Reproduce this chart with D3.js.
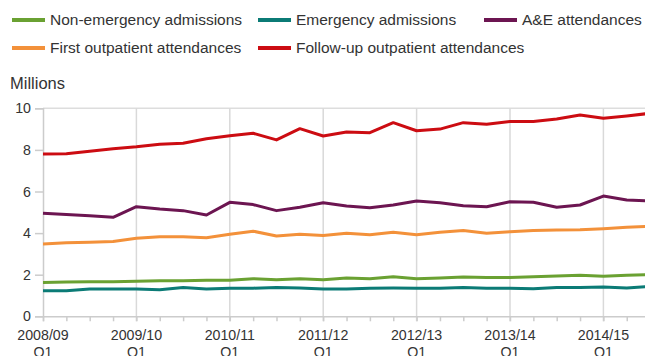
<!DOCTYPE html>
<html>
<head>
<meta charset="utf-8">
<script src="https://cdn.jsdelivr.net/npm/d3@7"></script>
<style>
  body { margin: 0; background: #fff; }
  text { font-family: Helvetica, Arial, "Liberation Sans", sans-serif; fill: #333; }
</style>
</head>
<body>
<div id="chart"></div>
<script>
// quarters, 2008/09 Q1 .. 2014/15 Q3
const quarters = [
  "2008/09 Q1", "2008/09 Q2", "2008/09 Q3", "2008/09 Q4",
  "2009/10 Q1", "2009/10 Q2", "2009/10 Q3", "2009/10 Q4",
  "2010/11 Q1", "2010/11 Q2", "2010/11 Q3", "2010/11 Q4",
  "2011/12 Q1", "2011/12 Q2", "2011/12 Q3", "2011/12 Q4",
  "2012/13 Q1", "2012/13 Q2", "2012/13 Q3", "2012/13 Q4",
  "2013/14 Q1", "2013/14 Q2", "2013/14 Q3", "2013/14 Q4",
  "2014/15 Q1", "2014/15 Q2", "2014/15 Q3"
];

// millions
const nonEmergency = [1.63, 1.65, 1.66, 1.66, 1.68, 1.71, 1.71, 1.73, 1.73, 1.81, 1.76, 1.81, 1.76, 1.84,
  1.81, 1.90, 1.81, 1.84, 1.89, 1.86, 1.87, 1.90, 1.94, 1.97, 1.92, 1.97, 2.00];
const emergency = [1.23, 1.23, 1.31, 1.31, 1.31, 1.28, 1.38, 1.31, 1.35, 1.35, 1.39, 1.36, 1.31, 1.31,
  1.35, 1.36, 1.35, 1.35, 1.39, 1.35, 1.35, 1.33, 1.39, 1.39, 1.41, 1.36, 1.44];
const aeAttendances = [4.95, 4.90, 4.84, 4.76, 5.27, 5.16, 5.08, 4.87, 5.48, 5.37, 5.08, 5.24, 5.46, 5.30,
  5.22, 5.35, 5.54, 5.46, 5.32, 5.27, 5.51, 5.48, 5.24, 5.35, 5.78, 5.59, 5.54];
const firstOutpatient = [3.48, 3.54, 3.56, 3.60, 3.75, 3.83, 3.83, 3.78, 3.94, 4.09, 3.86, 3.94, 3.88, 3.99,
  3.92, 4.04, 3.92, 4.04, 4.12, 3.99, 4.07, 4.12, 4.15, 4.16, 4.21, 4.28, 4.33];
const followUp = [7.80, 7.82, 7.93, 8.06, 8.15, 8.27, 8.32, 8.54, 8.68, 8.80, 8.48, 9.02, 8.67, 8.86,
  8.83, 9.31, 8.92, 9.00, 9.31, 9.23, 9.36, 9.36, 9.49, 9.68, 9.52, 9.63, 9.76];

const seriesNames = ["Non-emergency admissions", "Emergency admissions", "A&E attendances",
  "First outpatient attendances", "Follow-up outpatient attendances"];
const yTicks = [0, 2, 4, 6, 8, 10];

const colors = ["#6aa132", "#0b7b76", "#6c1551", "#f3913a", "#cc0c12"];
const series = [nonEmergency, emergency, aeAttendances, firstOutpatient, followUp];

const W = 645, H = 356;
const svg = d3.select("#chart").append("svg")
  .attr("width", W).attr("height", H);

const x = d3.scaleLinear().domain([0, quarters.length - 1]).range([43, 650.1]);
const y = d3.scaleLinear().domain([0, 10]).range([316.3, 108.3]);

// top gridline
svg.append("line")
  .attr("x1", x(0)).attr("x2", W)
  .attr("y1", y(10)).attr("y2", y(10))
  .attr("stroke", "#ddd").attr("stroke-width", 1.5);

// vertical year gridlines
const yearIdx = d3.range(4, quarters.length, 4);
svg.selectAll(".vgrid").data(yearIdx).enter().append("line")
  .attr("class", "vgrid")
  .attr("x1", d => x(d)).attr("x2", d => x(d))
  .attr("y1", y(10)).attr("y2", y(0) + 5)
  .attr("stroke", "#d9d9d9").attr("stroke-width", 1.5);

// x axis (quarter ticks)
const xAxis = d3.axisBottom(x)
  .tickValues(d3.range(0, quarters.length))
  .tickSize(5)
  .tickFormat("");
const gx = svg.append("g").attr("transform", "translate(0," + y(0) + ")").call(xAxis);
gx.select(".domain").attr("stroke", "#ccc").attr("stroke-width", 1.5);
gx.selectAll(".tick line").attr("stroke", "#ccc").attr("stroke-width", 1.5);

// x labels on year Q1 quarters
const xl = svg.selectAll(".xlab").data(d3.range(0, quarters.length, 4)).enter().append("text")
  .attr("class", "xlab")
  .attr("text-anchor", "middle")
  .attr("font-size", 14.2);
xl.append("tspan").attr("x", d => x(d)).attr("y", 340).text(d => quarters[d].split(" ")[0]);
xl.append("tspan").attr("x", d => x(d)).attr("y", 357).text(d => quarters[d].split(" ")[1]);

// y axis
const yAxis = d3.axisLeft(y).tickValues(yTicks).tickSize(8).tickPadding(4);
const gy = svg.append("g").attr("transform", "translate(" + x(0) + ",0)").call(yAxis);
gy.select(".domain").attr("stroke", "#ccc").attr("stroke-width", 1.5);
gy.selectAll(".tick line").attr("stroke", "#ccc").attr("stroke-width", 1.5);
gy.selectAll(".tick text")
  .attr("font-size", 14.2)
  .attr("font-family", "Helvetica, Arial, 'Liberation Sans', sans-serif")
  .attr("fill", "#333");

svg.append("text")
  .attr("x", 10).attr("y", 89)
  .attr("font-size", 16.5)
  .text("Millions");

// lines
const line = d3.line()
  .x((d, i) => x(i))
  .y(d => y(d));

svg.selectAll(".series").data(series).enter().append("path")
  .attr("class", "series")
  .attr("d", d => line(d))
  .attr("fill", "none")
  .attr("stroke", (d, i) => colors[i])
  .attr("stroke-width", 3)
  .attr("stroke-linejoin", "round");

// legend
const legCols = [12, 258, 484];
const legend = svg.selectAll(".leg").data(seriesNames).enter().append("g")
  .attr("class", "leg")
  .attr("transform", (d, i) => "translate(" + legCols[i % 3] + "," + (i < 3 ? 20 : 48) + ")");
legend.append("line")
  .attr("x1", 0).attr("x2", 33)
  .attr("stroke", (d, i) => colors[i])
  .attr("stroke-width", 4);
legend.append("text")
  .attr("x", 38).attr("dy", "0.35em")
  .attr("font-size", 15.5)
  .text(d => d);
</script>
</body>
</html>
